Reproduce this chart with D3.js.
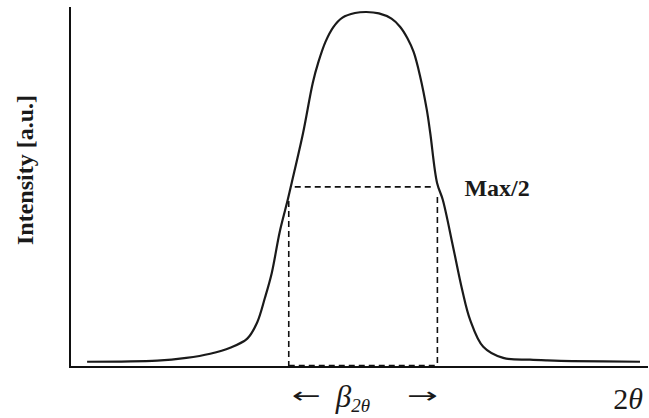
<!DOCTYPE html>
<html>
<head>
<meta charset="utf-8">
<script src="https://cdn.jsdelivr.net/npm/d3@7"></script>
<style>
  html, body { margin: 0; padding: 0; background: #fff; }
  svg { display: block; }
</style>
</head>
<body>
<svg id="chart" width="649" height="418"></svg>
<script>
// Diffraction peak profile: 2θ position (arbitrary units) and normalised intensity
const twoTheta = [3.0, 15.3, 20.4, 24.6, 28.1, 31.1, 32.8, 34.2, 35.4, 36.8, 38.2, 38.9,
  40.9, 42.6, 43.6, 44.8, 46.2, 47.8, 50.0, 52.0, 54.2, 56.4, 57.9, 59.2, 60.3, 61.4, 62.6, 63.2,
  64.4, 65.4, 67.2, 68.8, 70.2, 72.5, 76.0, 80.7, 83.7, 88.1, 100.0];
const intensity = [0.0, 0.003, 0.011, 0.023, 0.040, 0.066, 0.111, 0.183, 0.254, 0.372, 0.463, 0.512,
  0.655, 0.798, 0.858, 0.914, 0.957, 0.984, 0.997, 1.0, 0.996, 0.981, 0.958, 0.925, 0.885, 0.818, 0.72, 0.654,
  0.511, 0.463, 0.329, 0.206, 0.12, 0.043, 0.011, 0.006, 0.004, 0.002, 0.0];

const yTitle = "Intensity [a.u.]";
const halfLabel = "Max/2";
const xTitle = "2\u03B8";
const widthSymbol = "\u03B2";
const widthSub = "2\u03B8";

const serif = "'Liberation Serif', 'Times New Roman', serif";
const ink = "#1a1a1a";

const svg = d3.select("#chart");
const x = d3.scaleLinear().domain([0, 100]).range([70, 640]);
const y = d3.scaleLinear().domain([-0.015, 1]).range([367, 12]);

const pts = twoTheta.map((t, i) => ({ t, v: intensity[i] }));

// Half-maximum level and where the profile crosses it on each flank
const peak = d3.max(intensity);
const half = peak / 2;
const iPeak = intensity.indexOf(peak);
function crossing(lo, hi, step) {
  for (let i = lo; i !== hi; i += step) {
    const a = pts[i], b = pts[i + step];
    if ((a.v - half) * (b.v - half) <= 0) {
      const f = (half - a.v) / (b.v - a.v);
      return a.t + f * (b.t - a.t);
    }
  }
  return pts[hi].t;
}
const tLeft = crossing(0, iPeak, 1);
const tRight = crossing(pts.length - 1, iPeak, -1);
const xL = x(tLeft), xR = x(tRight), yBase = y(-0.015);

// Axes frame
svg.append("line")
  .attr("x1", x(0)).attr("x2", x(0))
  .attr("y1", 7).attr("y2", yBase)
  .attr("stroke", "#111").attr("stroke-width", 2);
svg.append("line")
  .attr("x1", x(0) - 1).attr("x2", 648)
  .attr("y1", yBase).attr("y2", yBase)
  .attr("stroke", "#111").attr("stroke-width", 2);

// FWHM box
const box = svg.append("g")
  .attr("fill", "none").attr("stroke", "#111")
  .attr("stroke-width", 1.6).attr("stroke-dasharray", "6,4");
box.append("line")
  .attr("x1", xL + 4).attr("x2", xR - 4)
  .attr("y1", y(half)).attr("y2", y(half));
box.append("line")
  .attr("x1", xL - 2).attr("x2", xL - 2)
  .attr("y1", y(half) + 14).attr("y2", yBase);
box.append("line")
  .attr("x1", xR - 1).attr("x2", xR - 1)
  .attr("y1", y(half) + 10).attr("y2", yBase);
box.append("line")
  .attr("x1", xL - 2).attr("x2", xR - 1)
  .attr("y1", yBase - 1.5).attr("y2", yBase - 1.5);

// Peak profile
const line = d3.line()
  .x(d => x(d.t))
  .y(d => y(d.v))
  .curve(d3.curveCatmullRom.alpha(0.5));
svg.append("path")
  .datum(pts)
  .attr("d", line)
  .attr("fill", "none")
  .attr("stroke", ink)
  .attr("stroke-width", 2.2)
  .attr("stroke-linejoin", "round");

// Axis title
svg.append("text")
  .attr("transform", "translate(33,170) rotate(-90)")
  .attr("text-anchor", "middle")
  .attr("font-family", serif)
  .attr("font-weight", "bold")
  .attr("font-size", 24)
  .attr("fill", ink)
  .text(yTitle);

// Half-maximum label
svg.append("text")
  .attr("x", xR + 26)
  .attr("y", y(half) + 9)
  .attr("font-family", serif)
  .attr("font-weight", "bold")
  .attr("font-size", 24)
  .attr("fill", ink)
  .text(halfLabel);

// x-axis title
const xt = svg.append("text")
  .attr("x", 643)
  .attr("y", 409)
  .attr("text-anchor", "end")
  .attr("font-family", serif)
  .attr("font-size", 30)
  .attr("fill", ink);
xt.append("tspan").text(xTitle[0]);
xt.append("tspan").attr("font-style", "italic").text(xTitle.slice(1));

// Width marker under the box: ← β2θ →
const arrowFont = "'DejaVu Sans', sans-serif";
svg.append("text")
  .attr("x", xL + 1).attr("y", 403)
  .attr("font-family", arrowFont).attr("font-size", 22)
  .attr("textLength", 29).attr("lengthAdjust", "spacingAndGlyphs")
  .attr("fill", ink)
  .text("\u2190");
svg.append("text")
  .attr("x", xR).attr("y", 403)
  .attr("text-anchor", "end")
  .attr("font-family", arrowFont).attr("font-size", 22)
  .attr("textLength", 31).attr("lengthAdjust", "spacingAndGlyphs")
  .attr("fill", ink)
  .text("\u2192");
const bw = svg.append("text")
  .attr("x", xL + 45)
  .attr("y", 407)
  .attr("font-family", serif)
  .attr("font-style", "italic")
  .attr("font-size", 31)
  .attr("fill", ink);
bw.append("tspan").text(widthSymbol);
bw.append("tspan").attr("font-size", 19).attr("dy", 5).text(widthSub);
</script>
</body>
</html>
